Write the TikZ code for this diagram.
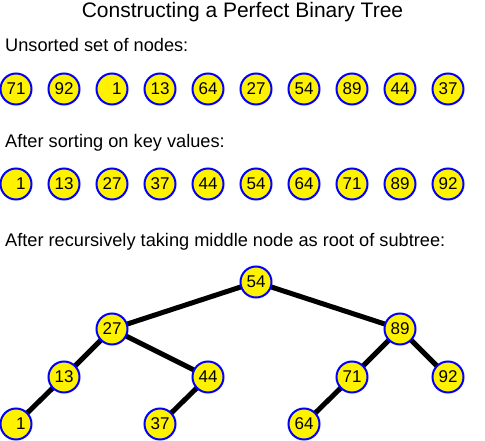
\documentclass[tikz,border=0pt]{standalone}
\usepackage{fontspec}
\setmainfont{Liberation Sans}
\usetikzlibrary{backgrounds}
\tikzset{
  key/.style={
    shape = circle,
    draw = blue,
    fill = yellow,
    line width = 2pt,
    minimum size = 31pt,
    inner sep = 0pt,
    text width = 19pt,
    align = right,
    font = \fontsize{17}{17}\selectfont
  },
  link/.style={
    line width = 5pt,
    black
  },
  caption/.style={
    anchor = base west,
    inner sep = 0pt,
    font = \fontsize{18.2}{18}\selectfont
  },
}

\begin{document}
\begin{tikzpicture}[x=1pt,y=-1pt]
\useasboundingbox (0,0) rectangle (485,441);
\node[anchor=base,inner sep=0pt,font=\fontsize{21}{21}\selectfont] (title) at (242.5,18) {Constructing a Perfect Binary Tree};
\node[caption] (unsorted) at (5,52) {Unsorted set of nodes:};
\node[caption] (sorted) at (5,148) {After sorting on key values:};
\node[caption] (recursive) at (5,247) {After recursively taking middle node as root of subtree:};
% unsorted and sorted rows
\foreach \k [count=\i] in {71,92,1,13,64,27,54,89,44,37}{
  \node[key] (u\i) at ({16+48*(\i-1)},89) {\k};
}
\foreach \k [count=\i] in {1,13,27,37,44,54,64,71,89,92}{
  \node[key] (s\i) at ({16+48*(\i-1)},184) {\k};
}
% tree
\node[key] (t54) at (256,282) {54};
\node[key] (t27) at (112,329) {27};
\node[key] (t89) at (400,329) {89};
\node[key] (t13) at (64,377) {13};
\node[key] (t44) at (208,377) {44};
\node[key] (t71) at (352,377) {71};
\node[key] (t92) at (448,377) {92};
\node[key] (t1) at (16,424) {1};
\node[key] (t37) at (160,424) {37};
\node[key] (t64) at (304,424) {64};
\begin{scope}[on background layer]
  \foreach \a/\b in {54/27,54/89,27/13,27/44,89/71,89/92,13/1,44/37,71/64}{
    \draw[link] (t\a.center) -- (t\b.center);
  }
\end{scope}
\end{tikzpicture}
\end{document}
